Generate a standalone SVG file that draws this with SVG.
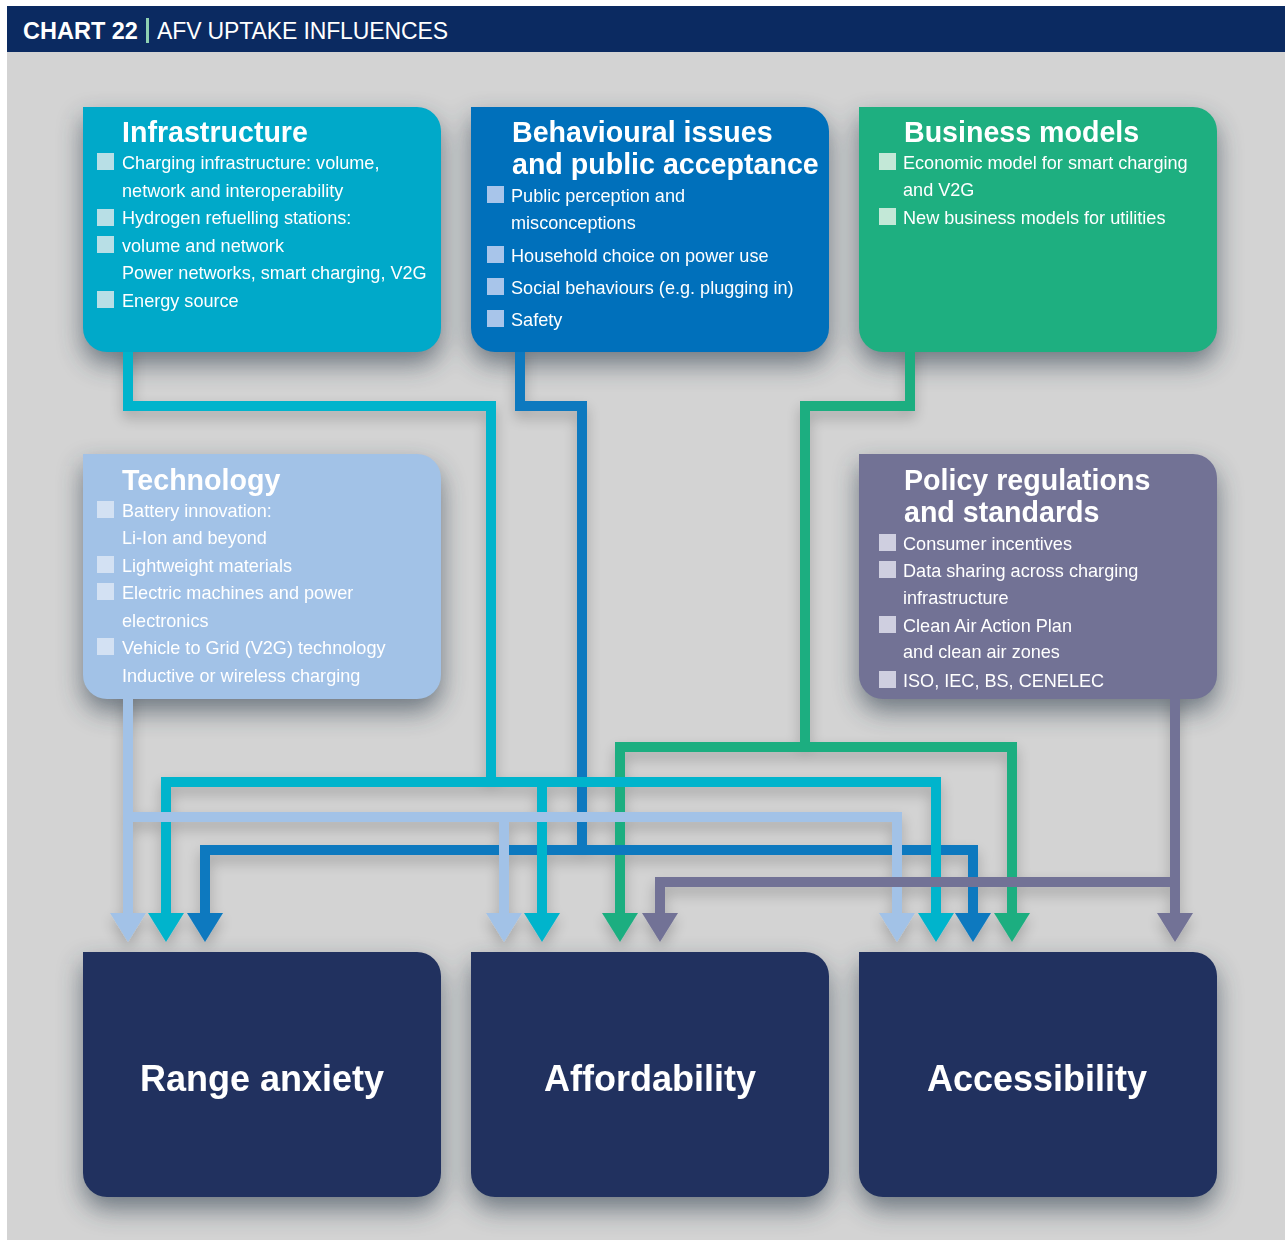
<svg xmlns="http://www.w3.org/2000/svg" width="1285" height="1248" viewBox="0 0 1285 1248">
<defs>
<style>
.t{font-family:"Liberation Sans",Arial,sans-serif;font-weight:bold;font-size:28.6px;fill:#fff}
.b{font-family:"Liberation Sans",Arial,sans-serif;font-size:18.1px;fill:#fff}
.big{font-family:"Liberation Sans",Arial,sans-serif;font-weight:bold;font-size:36px;fill:#fff;text-anchor:middle}
.ln{fill:none;stroke-width:10;stroke-linejoin:miter;stroke-linecap:butt}
.cy{stroke:#00b4cc}.cyf{fill:#00b4cc}
.bl{stroke:#0a79bf}.blf{fill:#0a79bf}
.gr{stroke:#1eae80}.grf{fill:#1eae80}
.lb{stroke:#a2c2e7}.lbf{fill:#a2c2e7}
.pu{stroke:#727296}.puf{fill:#727296}
</style>
<filter id="bshadow" x="-20%" y="-20%" width="140%" height="160%">
<feGaussianBlur stdDeviation="13"/>
</filter>
<filter id="lshadow" x="-10%" y="-10%" width="120%" height="130%">
<feGaussianBlur in="SourceAlpha" stdDeviation="7"/>
<feOffset dy="7"/>
<feComponentTransfer><feFuncA type="linear" slope="0.22"/></feComponentTransfer>
<feMerge><feMergeNode/><feMergeNode in="SourceGraphic"/></feMerge>
</filter>
<path id="box" d="M0,0 H334 A24,24 0 0 1 358,24 V221 A24,24 0 0 1 334,245 H24 A24,24 0 0 1 0,221 Z"/>
<path id="ah" d="M-18,0 H18 L0,29 Z"/>
</defs>

<rect x="0" y="0" width="1285" height="1248" fill="#ffffff"/>
<rect x="7" y="52" width="1278" height="1188" fill="#d3d3d3"/>
<rect x="7" y="6" width="1278" height="46" fill="#0b2a61"/>
<text x="23" y="39" style="font-family:'Liberation Sans',Arial,sans-serif;font-size:23.5px;font-weight:bold;fill:#fff">CHART 22</text>
<rect x="146" y="18" width="3" height="25" fill="#8fd0b2"/>
<text x="157" y="39" textLength="291" style="font-family:'Liberation Sans',Arial,sans-serif;font-size:23px;fill:#fff">AFV UPTAKE INFLUENCES</text>

<g id="shadows" fill="#2c3a4a" opacity="0.6" filter="url(#bshadow)">
<use href="#box" x="83" y="119"/>
<use href="#box" x="471" y="119"/>
<use href="#box" x="859" y="119"/>
<use href="#box" x="83" y="466"/>
<use href="#box" x="859" y="466"/>
<use href="#box" x="83" y="964"/>
<use href="#box" x="471" y="964"/>
<use href="#box" x="859" y="964"/>
</g>

<g id="connectors" filter="url(#lshadow)">
<g id="green">
<path class="ln gr" d="M910,345 V406 H805 V747"/>
<path class="ln gr" d="M620,914 V747 H1012 V914"/>
<use href="#ah" x="620" y="913" class="grf"/>
<use href="#ah" x="1012" y="913" class="grf"/>
</g>
<g id="blue">
<path class="ln bl" d="M520,345 V406 H582 V850"/>
<path class="ln bl" d="M205,914 V850 H973 V914"/>
<use href="#ah" x="205" y="913" class="blf"/>
<use href="#ah" x="973" y="913" class="blf"/>
</g>
<g id="cyan">
<path class="ln cy" d="M128,345 V406 H491 V782"/>
<path class="ln cy" d="M166,914 V782 H936 V914"/>
<path class="ln cy" d="M542,782 V914"/>
<use href="#ah" x="166" y="913" class="cyf"/>
<use href="#ah" x="542" y="913" class="cyf"/>
<use href="#ah" x="936" y="913" class="cyf"/>
</g>
<g id="lightblue">
<path class="ln lb" d="M128,692 V914"/>
<path class="ln lb" d="M128,817 H897 V914"/>
<path class="ln lb" d="M504,817 V914"/>
<use href="#ah" x="128" y="913" class="lbf"/>
<use href="#ah" x="504" y="913" class="lbf"/>
<use href="#ah" x="897" y="913" class="lbf"/>
</g>
<g id="purple">
<path class="ln pu" d="M1175,692 V914"/>
<path class="ln pu" d="M1180,882 H660 V914"/>
<use href="#ah" x="660" y="913" class="puf"/>
<use href="#ah" x="1175" y="913" class="puf"/>
</g>
</g>

<g id="infrastructure">
<use href="#box" x="83" y="107" fill="#00a9c9"/>
<text class="t" x="122" y="142">Infrastructure</text>
<g fill="#b8dfe6">
<rect x="97" y="153" width="17" height="17"/>
<rect x="97" y="209" width="17" height="17"/>
<rect x="97" y="236" width="17" height="17"/>
<rect x="97" y="291" width="17" height="17"/>
</g>
<text class="b" x="122" y="168.5">Charging infrastructure: volume,</text>
<text class="b" x="122" y="196.5">network and interoperability</text>
<text class="b" x="122" y="224">Hydrogen refuelling stations:</text>
<text class="b" x="122" y="251.5">volume and network</text>
<text class="b" x="122" y="279">Power networks, smart charging, V2G</text>
<text class="b" x="122" y="306.5">Energy source</text>
</g>

<g id="behavioural">
<use href="#box" x="471" y="107" fill="#0070bb"/>
<text class="t" x="512" y="142">Behavioural issues</text>
<text class="t" x="512" y="174">and public acceptance</text>
<g fill="#a8c5ea">
<rect x="487" y="186" width="17" height="17"/>
<rect x="487" y="246" width="17" height="17"/>
<rect x="487" y="278" width="17" height="17"/>
<rect x="487" y="310" width="17" height="17"/>
</g>
<text class="b" x="511" y="201.5">Public perception and</text>
<text class="b" x="511" y="228.5">misconceptions</text>
<text class="b" x="511" y="261.5">Household choice on power use</text>
<text class="b" x="511" y="293.5">Social behaviours (e.g. plugging in)</text>
<text class="b" x="511" y="325.5">Safety</text>
</g>

<g id="business">
<use href="#box" x="859" y="107" fill="#1eaf80"/>
<text class="t" x="904" y="142">Business models</text>
<g fill="#c3e8d7">
<rect x="879" y="153" width="17" height="17"/>
<rect x="879" y="208" width="17" height="17"/>
</g>
<text class="b" x="903" y="168.5">Economic model for smart charging</text>
<text class="b" x="903" y="196">and V2G</text>
<text class="b" x="903" y="223.5">New business models for utilities</text>
</g>

<g id="technology">
<use href="#box" x="83" y="454" fill="#a2c2e7"/>
<text class="t" x="122" y="490">Technology</text>
<g fill="#d3e1f3">
<rect x="97" y="501" width="17" height="17"/>
<rect x="97" y="556" width="17" height="17"/>
<rect x="97" y="583" width="17" height="17"/>
<rect x="97" y="638" width="17" height="17"/>
</g>
<text class="b" x="122" y="516.5">Battery innovation:</text>
<text class="b" x="122" y="544">Li-Ion and beyond</text>
<text class="b" x="122" y="571.5">Lightweight materials</text>
<text class="b" x="122" y="599">Electric machines and power</text>
<text class="b" x="122" y="626.5">electronics</text>
<text class="b" x="122" y="654">Vehicle to Grid (V2G) technology</text>
<text class="b" x="122" y="681.5">Inductive or wireless charging</text>
</g>

<g id="policy">
<use href="#box" x="859" y="454" fill="#727295"/>
<text class="t" x="904" y="490">Policy regulations</text>
<text class="t" x="904" y="522">and standards</text>
<g fill="#cfcfe0">
<rect x="879" y="534" width="17" height="17"/>
<rect x="879" y="561" width="17" height="17"/>
<rect x="879" y="616" width="17" height="17"/>
<rect x="879" y="671" width="17" height="17"/>
</g>
<text class="b" x="903" y="550">Consumer incentives</text>
<text class="b" x="903" y="577.3">Data sharing across charging</text>
<text class="b" x="903" y="604">infrastructure</text>
<text class="b" x="903" y="631.7">Clean Air Action Plan</text>
<text class="b" x="903" y="658.3">and clean air zones</text>
<text class="b" x="903" y="686.7">ISO, IEC, BS, CENELEC</text>
</g>

<g id="range-anxiety">
<use href="#box" x="83" y="952" fill="#21315f"/>
<text class="big" x="262" y="1091">Range anxiety</text>
</g>
<g id="affordability">
<use href="#box" x="471" y="952" fill="#21315f"/>
<text class="big" x="650" y="1091">Affordability</text>
</g>
<g id="accessibility">
<use href="#box" x="859" y="952" fill="#21315f"/>
<text class="big" x="1037" y="1091">Accessibility</text>
</g>
</svg>
